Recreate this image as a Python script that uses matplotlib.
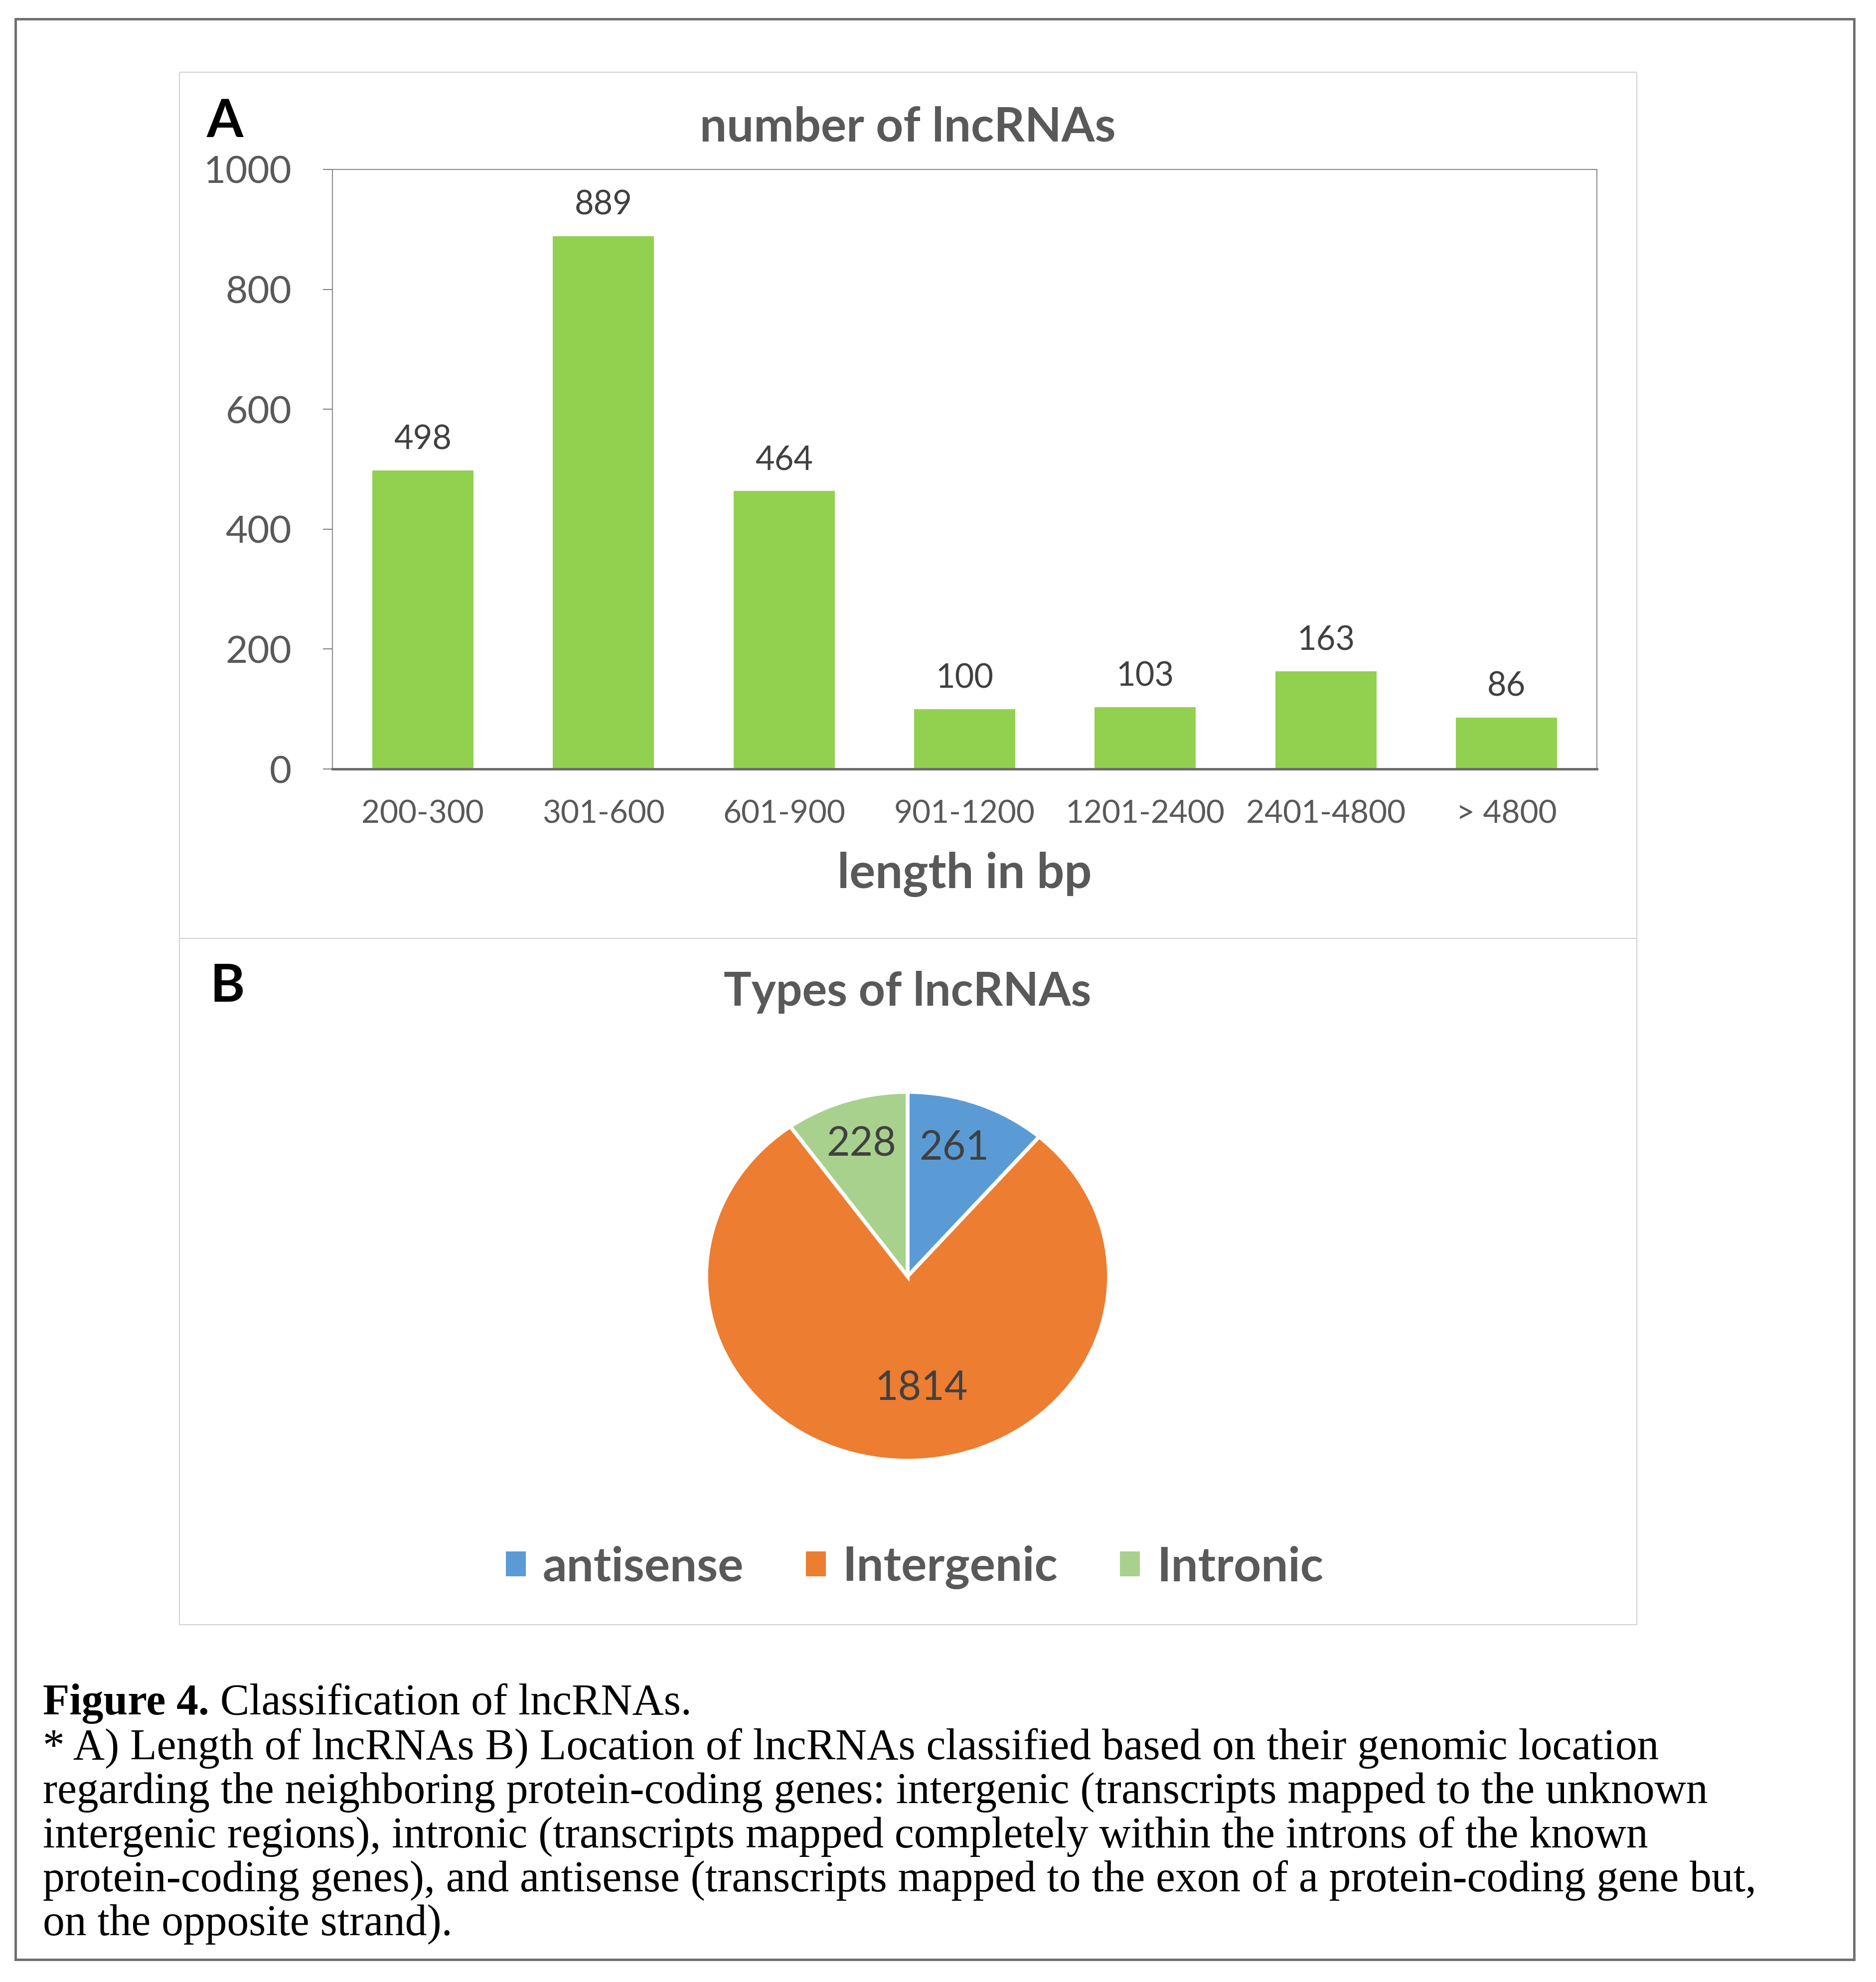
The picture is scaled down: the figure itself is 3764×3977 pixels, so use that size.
import numpy as np
import matplotlib
matplotlib.use('Agg')
import matplotlib.pyplot as plt
from matplotlib.patches import Rectangle, Patch
from matplotlib.lines import Line2D

# panel A: length distribution
length_bins = ['200-300', '301-600', '601-900', '901-1200', '1201-2400', '2401-4800', '> 4800']
lncrna_counts = [498, 889, 464, 100, 103, 163, 86]

# panel B: genomic location
lnc_types = ['antisense', 'Intergenic', 'Intronic']
type_counts = [261, 1814, 228]
type_colors = ['#5B9BD5', '#ED7D31', '#A9D18E']

caption_bold = 'Figure 4.'
caption_head = ' Classification of lncRNAs.'
caption_lines = [
    '* A) Length of lncRNAs B) Location of lncRNAs classified based on their genomic location',
    'regarding the neighboring protein-coding genes: intergenic (transcripts mapped to the unknown',
    'intergenic regions), intronic (transcripts mapped completely within the introns of the known',
    'protein-coding genes), and antisense (transcripts mapped to the exon of a protein-coding gene but,',
    'on the opposite strand).',
]

plt.rcParams['font.family'] = ['Lato', 'DejaVu Sans']

W, H = 3764, 3977
fig = plt.figure(figsize=(W / 100, H / 100), dpi=100)


def fx(px):
    return px / W


def fy(py):
    return 1 - py / H


# frames
fig.add_artist(Rectangle((fx(31), fy(3932)), fx(3720) - fx(31), (3932 - 38) / H,
                         transform=fig.transFigure, fill=False, edgecolor='#6e6e6e', lw=3.5))
fig.add_artist(Rectangle((fx(360), fy(3260)), fx(3284) - fx(360), (3260 - 145) / H,
                         transform=fig.transFigure, fill=False, edgecolor='#d4d4d4', lw=1.6))
fig.add_artist(Line2D([fx(360), fx(3284)], [fy(1883), fy(1883)],
                      transform=fig.transFigure, color='#d4d4d4', lw=1.6))

gray = '#595959'

# ---- A: bar chart
ax = fig.add_axes([fx(667), fy(1543), fx(3204) - fx(667), (1543 - 340) / H])
x = np.arange(len(length_bins))
bars = ax.bar(x, lncrna_counts, width=0.56, color='#92D050')
ax.set_xlim(-0.5, len(length_bins) - 0.5)
ax.set_ylim(0, 1000)
ax.set_yticks(np.arange(0, 1001, 200))
ax.set_xticks(x, length_bins)
ax.tick_params(axis='x', length=0, pad=44, labelsize=46, labelcolor=gray)
ax.tick_params(axis='y', length=14, width=1.5, color='#7f7f7f', pad=45, labelsize=55, labelcolor=gray)
for s in ['left', 'top', 'right']:
    ax.spines[s].set_color('#8c8c8c')
    ax.spines[s].set_linewidth(1.5)
ax.spines['bottom'].set_color('#6a6a6a')
ax.spines['bottom'].set_linewidth(3.5)
ax.bar_label(bars, padding=22, fontsize=48, color='#404040')
ax.set_xlabel('length in bp', fontsize=70, fontweight='bold', color=gray, labelpad=34)

fig.text(fx(451), fy(245), 'A', fontsize=76, fontweight='bold', color='black', ha='center', va='center')
fig.text(fx(1821), fy(256), 'number of lncRNAs', fontsize=69, fontweight='bold', color=gray,
         ha='center', va='center')

# ---- B: pie chart
fig.text(fx(456), fy(1980), 'B', fontsize=76, fontweight='bold', color='black', ha='center', va='center')
fig.text(fx(1821), fy(1991), 'Types of lncRNAs', fontsize=67, fontweight='bold', color=gray,
         ha='center', va='center')

ax2 = fig.add_axes([fx(1821 - 404), fy(2561 + 370), 808 / W, 740 / H])
wedges, _ = ax2.pie(type_counts, colors=type_colors, startangle=90, counterclock=False,
                    wedgeprops=dict(edgecolor='white', linewidth=5.5))
ax2.set_aspect('auto')
ax2.set_xlim(-1, 1)
ax2.set_ylim(-1, 1)
label_dist = [0.74, 0.61, 0.75]
label_dx = [-8, 28, 0]  # small nudges in points
for w, n, d, dx in zip(wedges, type_counts, label_dist, label_dx):
    ang = np.deg2rad((w.theta1 + w.theta2) / 2)
    ax2.annotate(str(n), (d * np.cos(ang), d * np.sin(ang)), xytext=(dx, 0),
                 textcoords='offset points', ha='center', va='center',
                 fontsize=58, color='#404040')

handles = [Patch(facecolor=c, label=l) for c, l in zip(type_colors, lnc_types)]
fig.legend(handles=handles, loc='center', bbox_to_anchor=(fx(1835), fy(3145)), ncol=3,
           frameon=False, prop=dict(weight='bold', size=69), labelcolor=gray,
           handlelength=0.42, handleheight=0.42, handletextpad=0.35, columnspacing=1.3)

# ---- caption
serif = ['Liberation Serif', 'DejaVu Serif']
csize = 63
t1 = fig.text(fx(86), fy(3440), caption_bold, fontsize=csize, fontweight='bold',
              family=serif, va='baseline')
ax.annotate(caption_head, xy=(1, 0), xycoords=t1, va='bottom', ha='left',
            fontsize=csize, family=serif, annotation_clip=False)
for i, line in enumerate(caption_lines):
    fig.text(fx(86), fy(3530 + i * 88.3), line, fontsize=csize, family=serif, va='baseline')

fig.savefig('out.png', dpi=100)
